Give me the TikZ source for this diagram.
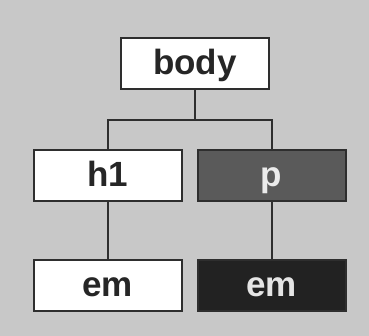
\documentclass[tikz,border=0pt]{standalone}
\usepackage{fontspec}
\setmainfont{Liberation Sans}
\definecolor{bggrey}{HTML}{C8C8C8}
\definecolor{midgrey}{HTML}{5A5A5A}
\definecolor{darkbox}{HTML}{222222}
\definecolor{linegrey}{HTML}{2E2E2E}
\begin{document}
\begin{tikzpicture}[x=1pt, y=-1pt,
    tag/.style={rectangle, draw=linegrey, line width=2pt, minimum width=148pt, minimum height=51pt,
      inner sep=0pt, text height=24pt, text depth=2pt,
      font=\fontsize{35}{40}\selectfont\bfseries},
    light/.style={tag, fill=white, text=black!85},
    shaded/.style={tag, fill=midgrey, text=white!92!black},
    dark/.style={tag, fill=darkbox, text=white!90!black}]

		% Fondo
		\fill [bggrey] (0,0) rectangle (369,336);
		\useasboundingbox (0,0) rectangle (369,336);

		% Nodo raiz
		\node [light] (body) at (195,64) {body};

		% Hijos de body
		\node [light] (h1) at (107.5,176) {h1};
		\node [shaded] (p) at (271.5,176) {p};

		% Nietos
		\node [light] (em-1) at (107.5,285.5) {em};
		\node [dark] (em-2) at (271.5,285.5) {em};

		% Conexiones
		\coordinate (split) at (195,120);
		\draw [linegrey, line width=2pt] (body.south) -- (split);
		\draw [linegrey, line width=2pt] (h1.north) |- (split) -| (p.north);
		\foreach \a/\b in {h1/em-1, p/em-2}
		\draw [linegrey, line width=2pt] (\a.south) -- (\b.north);

	\end{tikzpicture}
\end{document}
